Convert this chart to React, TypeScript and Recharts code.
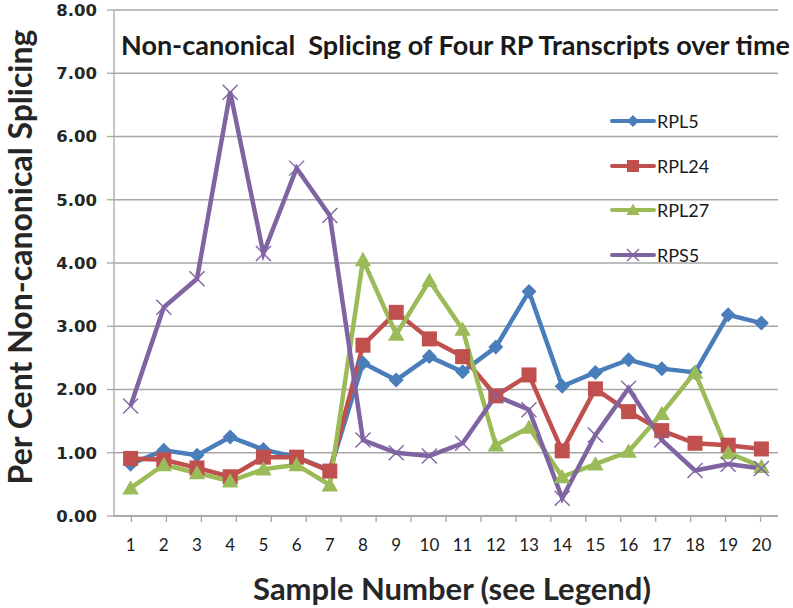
import React from 'react';
import { LineChart, Line, XAxis, YAxis, CartesianGrid, Legend, Label } from 'recharts';

const SAMPLES = [1, 2, 3, 4, 5, 6, 7, 8, 9, 10, 11, 12, 13, 14, 15, 16, 17, 18, 19, 20];
const EDGE_TICKS = [0.5, 1.5, 2.5, 3.5, 4.5, 5.5, 6.5, 7.5, 8.5, 9.5, 10.5, 11.5, 12.5, 13.5, 14.5, 15.5, 16.5, 17.5, 18.5, 19.5, 20.5];
const Y_TICKS = [0, 1, 2, 3, 4, 5, 6, 7, 8];

const RPL5 = [0.82, 1.04, 0.96, 1.25, 1.05, 0.93, 0.72, 2.42, 2.15, 2.52, 2.28, 2.67, 3.55, 2.05, 2.27, 2.47, 2.33, 2.27, 3.18, 3.05];
const RPL24 = [0.91, 0.89, 0.76, 0.62, 0.93, 0.93, 0.71, 2.70, 3.22, 2.80, 2.52, 1.90, 2.23, 1.03, 2.01, 1.65, 1.35, 1.15, 1.12, 1.06];
const RPL27 = [0.44, 0.81, 0.68, 0.55, 0.74, 0.81, 0.49, 4.05, 2.87, 3.72, 2.95, 1.12, 1.40, 0.62, 0.82, 1.02, 1.62, 2.27, 1.00, 0.78];
const RPS5 = [1.74, 3.30, 3.75, 6.70, 4.15, 5.50, 4.75, 1.20, 1.00, 0.95, 1.15, 1.90, 1.68, 0.28, 1.28, 2.02, 1.20, 0.72, 0.82, 0.75];

const COLORS: Record<string, string> = {
  RPL5: '#4a7ebb',
  RPL24: '#c0504d',
  RPL27: '#9bbb59',
  RPS5: '#8064a2',
};

const data = SAMPLES.map((s, i) => ({
  sample: s,
  RPL5: RPL5[i],
  RPL24: RPL24[i],
  RPL27: RPL27[i],
  RPS5: RPS5[i],
}));

const FONT = 'Lato, "Open Sans", sans-serif';
const GRID = '#a6a6a6';

// marker shapes, drawn around the point the library hands us
function marker(key: string, cx: number, cy: number, s: number, k?: React.Key) {
  const c = COLORS[key];
  if (key === 'RPL5')
    return <path key={k} d={`M${cx},${cy - s}L${cx + s},${cy}L${cx},${cy + s}L${cx - s},${cy}Z`} fill={c} />;
  if (key === 'RPL24')
    return <rect key={k} x={cx - s} y={cy - s} width={s * 2} height={s * 2} fill={c} />;
  if (key === 'RPL27')
    return <path key={k} d={`M${cx},${cy - s * 1.05}L${cx + s * 1.1},${cy + s * 0.85}L${cx - s * 1.1},${cy + s * 0.85}Z`} fill={c} />;
  return (
    <g key={k} stroke={c} strokeWidth={1.4}>
      <line x1={cx - s} y1={cy - s} x2={cx + s} y2={cy + s} />
      <line x1={cx - s} y1={cy + s} x2={cx + s} y2={cy - s} />
    </g>
  );
}

const makeDot = (key: string) => (p: any) => {
  if (p.cx == null || p.cy == null) return <g key={p.index} />;
  return marker(key, p.cx, p.cy, 7.5, p.index);
};

const LegendContent = () => (
  <div style={{ fontFamily: FONT, fontSize: 18, color: '#1a1a1a' }}>
    {['RPL5', 'RPL24', 'RPL27', 'RPS5'].map(k => (
      <div key={k} style={{ display: 'flex', alignItems: 'center', height: 44.5 }}>
        <svg width={46} height={20}>
          <line x1={2} y1={10} x2={44} y2={10} stroke={COLORS[k]} strokeWidth={4} strokeLinecap="round" />
          {marker(k, 23, 10, 6)}
        </svg>
        <span style={{ marginLeft: 1 }}>{k}</span>
      </div>
    ))}
  </div>
);

export default function App() {
  return (
    <div style={{ position: 'absolute', left: 0, top: 0, width: 793, height: 608, background: '#fff' }}>
      <LineChart width={793} height={608} data={data} margin={{ top: 10, right: 15, left: 0, bottom: 0 }}>
        <CartesianGrid vertical={false} stroke={GRID} strokeWidth={1.3} />
        <XAxis
          xAxisId="edges"
          type="number"
          domain={[0.5, 20.5]}
          ticks={EDGE_TICKS}
          height={8}
          tickFormatter={() => ''}
          tickSize={6}
          stroke={GRID}
          strokeWidth={1.3}
          allowDataOverflow
        />
        <XAxis
          xAxisId="main"
          type="number"
          dataKey="sample"
          domain={[0.5, 20.5]}
          ticks={SAMPLES}
          height={84}
          axisLine={false}
          tickLine={false}
          tickMargin={9}
          interval={0}
          tick={{ fontFamily: FONT, fontSize: 17, fill: '#1a1a1a' }}
        >
          <Label
            content={(props: any) => {
              const vb = props.viewBox;
              return (
                <text
                  x={vb.x + vb.width / 2 + 6}
                  y={600}
                  textAnchor="middle"
                  fontFamily={FONT}
                  fontWeight={700}
                  fontSize={31}
                  fill="#262626"
                >
                  Sample Number (see Legend)
                </text>
              );
            }}
          />
        </XAxis>
        <YAxis
          domain={[0, 8]}
          ticks={Y_TICKS}
          width={114}
          tickSize={7}
          tickMargin={10}
          stroke={GRID}
          strokeWidth={1.3}
          tickFormatter={(v: number) => v.toFixed(2)}
          tick={{ fontFamily: '"DejaVu Sans", sans-serif', fontWeight: 700, fontSize: 16.5, fill: '#262626' }}
        >
          <Label
            content={() => (
              <text
                x={32}
                y={257}
                transform="rotate(-90 32 257)"
                textAnchor="middle"
                fontFamily={FONT}
                fontWeight={700}
                fontSize={32}
                fill="#262626"
              >
                Per Cent Non-canonical Splicing
              </text>
            )}
          />
        </YAxis>
        <Legend
          layout="vertical"
          verticalAlign="middle"
          align="center"
          content={<LegendContent />}
          wrapperStyle={{ left: 610, top: 99, width: 130 }}
        />
        {['RPL5', 'RPL24', 'RPL27', 'RPS5'].map(k => (
          <Line
            key={k}
            xAxisId="main"
            dataKey={k}
            name={k}
            stroke={COLORS[k]}
            strokeWidth={4.5}
            dot={makeDot(k)}
            activeDot={false}
            isAnimationActive={false}
          />
        ))}
      </LineChart>
      <div
        style={{
          position: 'absolute',
          left: 121,
          top: 28,
          whiteSpace: 'pre',
          fontFamily: FONT,
          fontWeight: 700,
          fontSize: 27,
          color: '#1a1a1a',
        }}
      >
        Non-canonical  Splicing of Four RP Transcripts over time
      </div>
    </div>
  );
}
